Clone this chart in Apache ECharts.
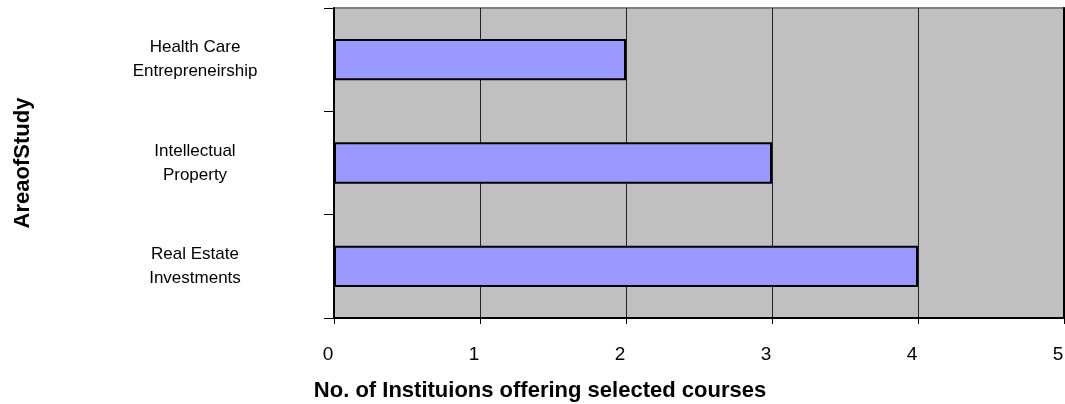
<!DOCTYPE html>
<html>
<head>
<meta charset="utf-8">
<script src="https://cdn.jsdelivr.net/npm/echarts@6/dist/echarts.min.js"></script>
<style>
  html, body { margin: 0; padding: 0; background: #fff; }
  #chart { width: 1065px; height: 404px; }
</style>
</head>
<body>
<div id="chart"></div>
<script>
// categories listed bottom to top, as the category axis draws them
var categories = ["Real Estate\nInvestments", "Intellectual\nProperty", "Health Care\nEntrepreneirship"];
var institutions = [4, 3, 2];
var xTicks = [0, 1, 2, 3, 4, 5];

var myChart = echarts.init(document.getElementById("chart"));
myChart.setOption({
  animation: false,
  grid: {
    left: 334,
    top: 8,
    right: 1,
    bottom: 86,
    outerBoundsMode: "none",
    show: true,
    backgroundColor: "#C0C0C0",
    borderColor: "#808080",
    borderWidth: 2,
  },
  xAxis: {
    type: "value",
    min: xTicks[0],
    max: xTicks[xTicks.length - 1],
    interval: 1,
    name: "No. of Instituions offering selected courses",
    nameLocation: "middle",
    nameGap: 62,
    nameTextStyle: {
      fontFamily: "Liberation Sans",
      fontSize: 22,
      fontWeight: "bold",
      color: "#000",
      padding: [0, 318, 0, 0],
    },
    axisLine: { show: true, lineStyle: { color: "#000", width: 2 } },
    axisTick: { show: true, length: 6, lineStyle: { color: "#000" } },
    axisLabel: {
      fontFamily: "Liberation Sans",
      fontSize: 19,
      color: "#000",
      margin: 27,
      padding: [0, 12, 0, 0],
      showMaxLabel: true,
    },
    splitLine: { show: true, lineStyle: { color: "#222", width: 1 } },
  },
  yAxis: [
    {
      type: "category",
      data: categories,
      name: "AreaofStudy",
      nameLocation: "middle",
      nameGap: 300,
      nameRotate: 90,
      nameTextStyle: {
        fontFamily: "Liberation Sans",
        fontSize: 22,
        fontWeight: "bold",
        color: "#000",
      },
      axisLine: { show: true, lineStyle: { color: "#000", width: 2 } },
      axisTick: { show: true, length: 10, lineStyle: { color: "#000" } },
      axisLabel: {
        fontFamily: "Liberation Sans",
        fontSize: 17,
        color: "#000",
        align: "center",
        lineHeight: 24,
        margin: 139,
      },
    },
    {
      type: "category",
      data: categories,
      position: "right",
      axisLine: { show: true, lineStyle: { color: "#000", width: 2 } },
      axisTick: { show: false },
      axisLabel: { show: false },
    },
  ],
  series: [
    {
      type: "bar",
      data: institutions,
      yAxisIndex: 0,
      barWidth: "40%",
      itemStyle: {
        color: "#9999FF",
        borderColor: "#000",
        borderWidth: 2,
      },
    },
  ],
});
</script>
</body>
</html>
